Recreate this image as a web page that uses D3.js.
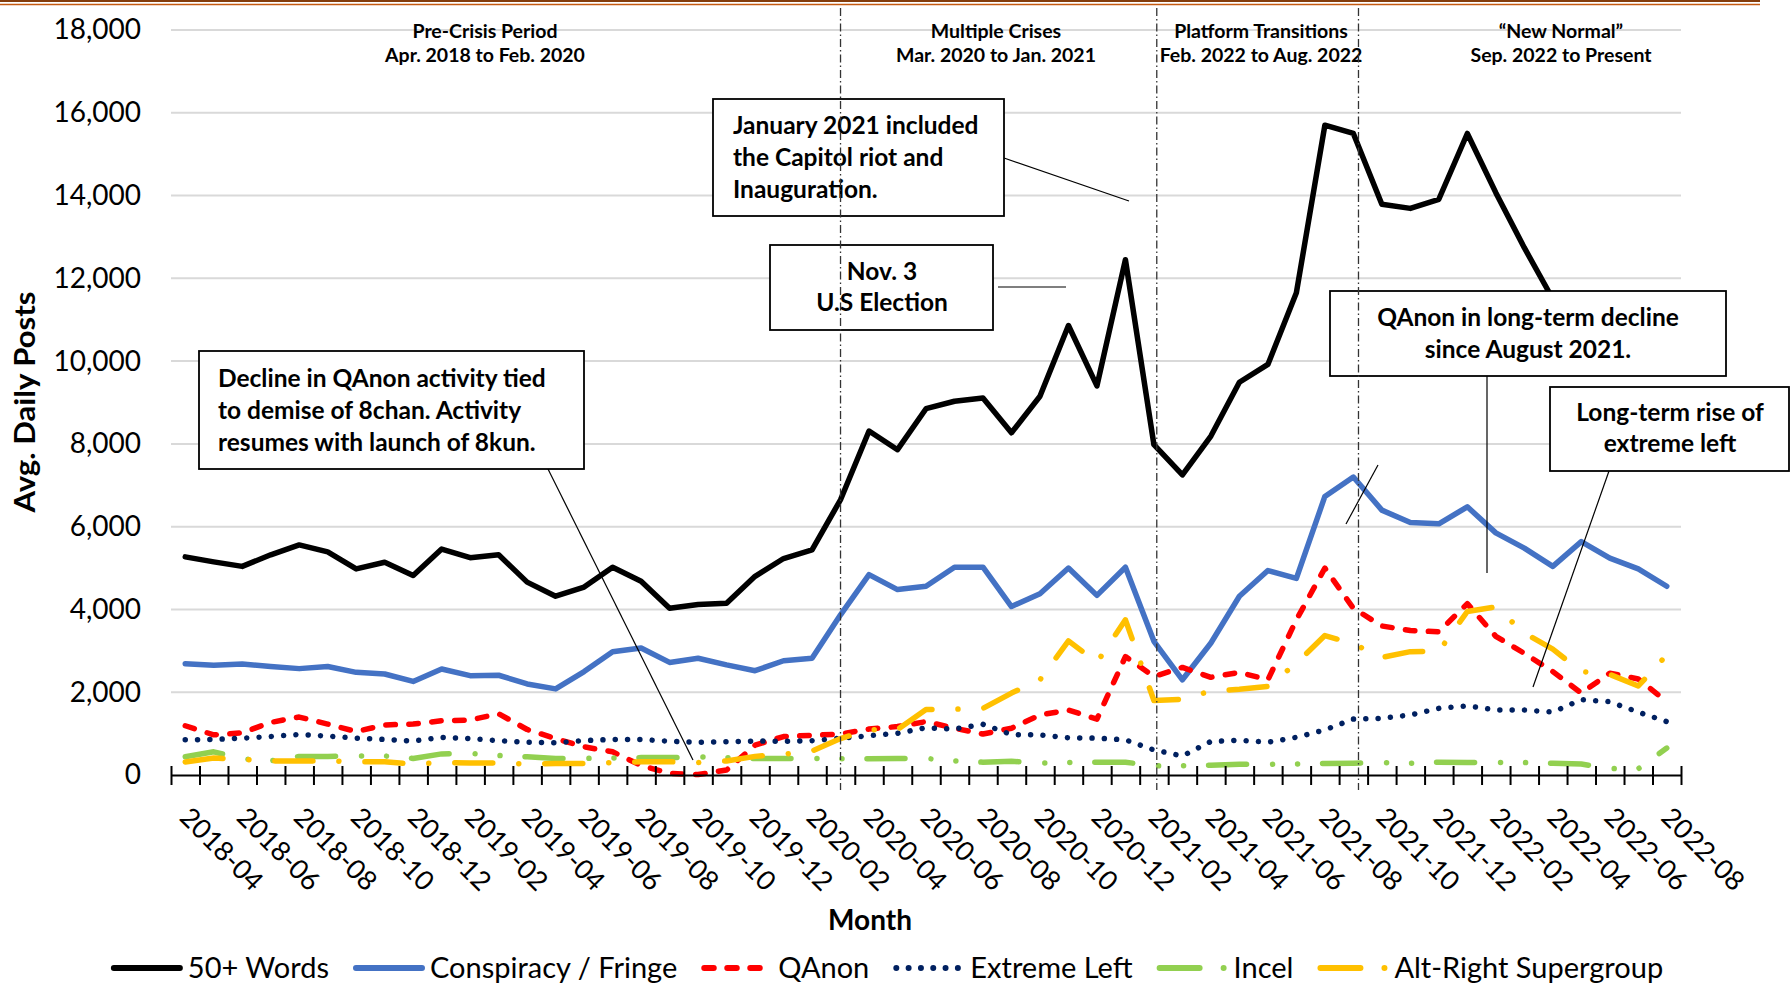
<!DOCTYPE html>
<html>
<head>
<meta charset="utf-8">
<script src="https://cdn.jsdelivr.net/npm/d3@7"></script>
<style>
  body { margin: 0; background: #fff; }
  svg text { font-family: Lato, "Open Sans", sans-serif; fill: #000; }
</style>
</head>
<body>
<svg id="chart" width="1791" height="984"></svg>
<script>
// --- DATA (avg. daily posts per month) ---
const months = [
  "2018-04","2018-05","2018-06","2018-07","2018-08","2018-09","2018-10","2018-11","2018-12",
  "2019-01","2019-02","2019-03","2019-04","2019-05","2019-06","2019-07","2019-08","2019-09",
  "2019-10","2019-11","2019-12","2020-01","2020-02","2020-03","2020-04","2020-05","2020-06",
  "2020-07","2020-08","2020-09","2020-10","2020-11","2020-12","2021-01","2021-02","2021-03",
  "2021-04","2021-05","2021-06","2021-07","2021-08","2021-09","2021-10","2021-11","2021-12",
  "2022-01","2022-02","2022-03","2022-04","2022-05","2022-06","2022-07","2022-08"
];
const words50 = [5270,5150,5040,5320,5560,5390,4980,5140,4820,5460,5250,5320,4660,4320,4540,5020,4680,4030,
  4120,4150,4800,5230,5440,6650,8310,7860,8850,9030,9110,8270,9150,10860,9400,12450,7980,7250,
  8190,9490,9920,11650,15700,15500,13790,13690,13910,15500,14070,12740,11500,11000,10600,10400,10200];
const conspiracy = [2690,2650,2680,2620,2570,2620,2480,2440,2260,2560,2400,2410,2200,2080,2500,2980,3070,2720,
  2820,2660,2520,2760,2820,3870,4840,4480,4560,5020,5020,4070,4380,5000,4340,5020,3230,2300,
  3190,4320,4940,4750,6730,7200,6400,6100,6070,6480,5850,5480,5040,5640,5240,4980,4560];
const qanon = [1190,970,1020,1270,1400,1230,1050,1210,1230,1310,1330,1480,1100,880,680,560,230,40,
  10,120,720,930,960,990,1110,1170,1290,1130,990,1130,1450,1570,1350,2860,2380,2600,
  2360,2480,2300,3750,5000,4030,3600,3490,3460,4140,3350,2940,2500,1980,2460,2320,1770];
const extremeLeft = [850,860,890,930,980,940,890,860,820,910,880,830,790,780,830,860,860,815,
  790,806,820,815,830,887,950,1008,1140,1113,1226,976,968,900,890,850,605,460,
  810,840,790,910,1090,1350,1370,1450,1610,1670,1570,1570,1520,1820,1770,1520,1290];
const incel = [440,560,390,340,450,450,460,460,400,510,520,470,440,400,400,410,420,420,
  440,420,400,400,400,395,395,400,400,340,310,330,290,300,310,310,220,225,
  235,260,260,265,280,285,300,285,310,305,305,300,285,265,155,150,650];
const altRight = [315,410,380,340,340,340,320,320,265,300,290,290,265,280,280,300,320,320,
  300,340,450,500,580,880,1090,1100,1580,1590,1610,1980,2300,3240,2720,3750,1800,1830,
  2030,2070,2140,2700,3370,3170,2840,2980,2990,3950,4060,3430,3040,2500,2430,2150,2900];
const seriesNames = ["50+ Words","Conspiracy / Fringe","QAnon","Extreme Left","Incel","Alt-Right Supergroup"];
const yTicks = [0,2000,4000,6000,8000,10000,12000,14000,16000,18000];
const periodLabels = [
  ["Pre-Crisis Period","Apr. 2018 to Feb. 2020"],
  ["Multiple Crises","Mar. 2020 to Jan. 2021"],
  ["Platform Transitions","Feb. 2022 to Aug. 2022"],
  ["\u201cNew Normal\u201d","Sep. 2022 to Present"]
];

// --- STYLES ---
const series = [
  { name: seriesNames[0], values: words50,     color: "#000000", dash: null,                    legendDash: null },
  { name: seriesNames[1], values: conspiracy,  color: "#4472C4", dash: null,                    legendDash: null },
  { name: seriesNames[2], values: qanon,       color: "#FF0000", dash: "9.5 13.5",              legendDash: "9.5 13.5" },
  { name: seriesNames[3], values: extremeLeft, color: "#002060", dash: "0.01 12.3",             legendDash: "0.01 12.3" },
  { name: seriesNames[4], values: incel,       color: "#92D050", dash: "38 26 0.01 25 0.01 25", legendDash: "40 24 0.01 30" },
  { name: seriesNames[5], values: altRight,    color: "#FFC000", dash: "38 26 0.01 26",         legendDash: "40 24 0.01 30" }
];

const svg = d3.select("#chart");
const plotLeft = 171, plotRight = 1681, plotTop = 30, plotBottom = 775;

const x = d3.scaleBand().domain(months).range([plotLeft, plotRight]).paddingInner(0).paddingOuter(0);
const xIdx = d3.scaleLinear().domain([0, months.length]).range([plotLeft, plotRight]); // category boundaries
const y = d3.scaleLinear().domain([0, 18000]).range([plotBottom, plotTop]);
const cx = (i) => x(months[i]) + x.bandwidth() / 2;

// top border (document rule)
svg.append("line").attr("x1", 0).attr("x2", 1760).attr("y1", 1).attr("y2", 1).attr("stroke", "#843C0C").attr("stroke-width", 2);
svg.append("line").attr("x1", 0).attr("x2", 1760).attr("y1", 4.5).attr("y2", 4.5).attr("stroke", "#C55A11").attr("stroke-width", 1.5);

// --- GRID + Y AXIS ---
svg.append("g").selectAll("line").data(yTicks.filter(d => d > 0)).join("line")
  .attr("x1", plotLeft).attr("x2", plotRight).attr("y1", d => y(d)).attr("y2", d => y(d))
  .attr("stroke", "#d9d9d9").attr("stroke-width", 2);

const yAxis = svg.append("g").attr("transform", `translate(${plotLeft},0)`)
  .call(d3.axisLeft(y).tickValues(yTicks).tickFormat(d3.format(",")).tickSize(0).tickPadding(30));
yAxis.select(".domain").remove();
yAxis.selectAll("text").style("font-size", "28px").attr("font-family", "Lato");

svg.append("text").attr("transform", "translate(35,402) rotate(-90)")
  .attr("text-anchor", "middle").attr("textLength", 221).attr("lengthAdjust", "spacingAndGlyphs")
  .style("font-size", "29px").style("font-weight", "bold").text("Avg. Daily Posts");

// --- SERIES ---
const line = d3.line().x((d, i) => cx(i)).y(d => y(d));
svg.append("g").selectAll("path").data(series).join("path")
  .attr("d", d => line(d.values))
  .attr("fill", "none").attr("stroke", d => d.color).attr("stroke-width", 5.5)
  .attr("stroke-linejoin", "round").attr("stroke-linecap", "round")
  .attr("stroke-dasharray", d => d.dash);

// --- X AXIS (crossing ticks between categories) ---
const xAxis = svg.append("g").attr("transform", `translate(0,${plotBottom})`)
  .call(d3.axisBottom(xIdx).tickValues(d3.range(months.length + 1)).tickFormat("").tickSizeOuter(0));
xAxis.select(".domain").attr("stroke", "#000").attr("stroke-width", 2.2);
xAxis.selectAll(".tick line").attr("y1", -9).attr("y2", 10).attr("stroke", "#000").attr("stroke-width", 2);

svg.append("g").selectAll("text").data(months.map((m, i) => ({ m, i })).filter(d => d.i % 2 === 0)).join("text")
  .attr("transform", d => `translate(${cx(d.i) - 7},819) rotate(45)`)
  .style("font-size", "27px").text(d => d.m);

svg.append("text").attr("x", 870).attr("y", 930).attr("text-anchor", "middle")
  .style("font-size", "28px").style("font-weight", "bold").text("Month");

// --- PERIOD LABELS ---
const periodX = [485, 996, 1261, 1561];
periodLabels.forEach((lines, k) => {
  const t = svg.append("text").attr("text-anchor", "middle").style("font-size", "19.5px").style("font-weight", "bold");
  t.append("tspan").attr("x", periodX[k]).attr("y", 38).text(lines[0]);
  t.append("tspan").attr("x", periodX[k]).attr("y", 62).text(lines[1]);
});

// --- ANNOTATIONS ---
const pointers = [
  [1004, 158, 1129, 201], [998, 287, 1066, 287], [548, 469, 693, 760],
  [1487, 376, 1487, 573], [1609, 471, 1533, 687], [1378, 465, 1346, 524]
];
svg.append("g").selectAll("line").data(pointers).join("line")
  .attr("x1", d => d[0]).attr("y1", d => d[1]).attr("x2", d => d[2]).attr("y2", d => d[3])
  .attr("stroke", "#000").attr("stroke-width", 1.2);

const boxes = [
  { x: 713, y: 99, w: 291, h: 117, anchor: "start", tx: 733, lines: ["January 2021 included", "the Capitol riot and", "Inauguration."], base: 134, lh: 32 },
  { x: 770, y: 245, w: 223, h: 85, anchor: "middle", tx: 882, lines: ["Nov. 3", "U.S Election"], base: 280, lh: 31 },
  { x: 199, y: 351, w: 385, h: 118, anchor: "start", tx: 218, lines: ["Decline in QAnon activity tied", "to demise of 8chan. Activity", "resumes with launch of 8kun."], base: 387, lh: 32 },
  { x: 1330, y: 291, w: 396, h: 85, anchor: "middle", tx: 1528, lines: ["QAnon in long-term decline", "since August 2021."], base: 326, lh: 32 },
  { x: 1550, y: 387, w: 239, h: 84, anchor: "middle", tx: 1670, lines: ["Long-term rise of", "extreme left"], base: 421, lh: 31 }
];
const bg = svg.append("g").selectAll("g").data(boxes).join("g");
bg.append("rect").attr("x", d => d.x).attr("y", d => d.y).attr("width", d => d.w).attr("height", d => d.h)
  .attr("fill", "#fff").attr("stroke", "#000").attr("stroke-width", 1.8);
bg.each(function (d) {
  const t = d3.select(this).append("text").attr("text-anchor", d.anchor)
    .style("font-size", "24.5px").style("font-weight", "bold");
  d.lines.forEach((s, j) => t.append("tspan").attr("x", d.tx).attr("y", d.base + j * d.lh).text(s));
});

// period dividers (drawn over the boxes, as in the original)
const dividers = [23, 34.1, 41.18];
svg.append("g").selectAll("line").data(dividers).join("line")
  .attr("x1", d => xIdx(d + 0.5)).attr("x2", d => xIdx(d + 0.5)).attr("y1", 8).attr("y2", 790)
  .attr("stroke", "#333").attr("stroke-width", 1.3).attr("stroke-dasharray", "8 3 1.5 3");

// --- LEGEND ---
const legend = svg.append("g");
let lx = 0;
const items = legend.selectAll("g").data(series).join("g");
items.append("line").attr("x1", 3).attr("x2", 69).attr("y1", 0).attr("y2", 0)
  .attr("stroke", d => d.color).attr("stroke-width", 6).attr("stroke-linecap", "round")
  .attr("stroke-dasharray", d => d.legendDash);
items.append("text").attr("x", 77).attr("y", 10).style("font-size", "29px").text(d => d.name);
items.each(function () {
  const g = d3.select(this);
  g.attr("transform", `translate(${lx},0)`);
  lx += 77 + g.select("text").node().getComputedTextLength() + 24;
});
legend.attr("transform", `translate(${887 - (lx - 24) / 2},968)`);
</script>
</body>
</html>
